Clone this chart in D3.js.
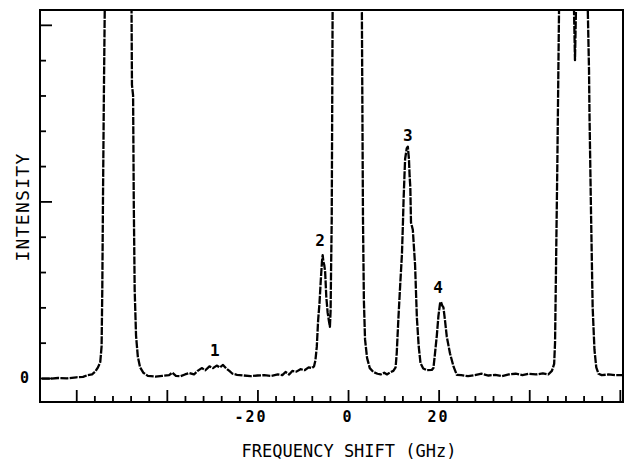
<!DOCTYPE html>
<html>
<head>
<meta charset="utf-8">
<script src="https://cdn.jsdelivr.net/npm/d3@7/dist/d3.min.js"></script>
<style>
  html, body { margin: 0; padding: 0; background: #fff; }
  svg { display: block; }
</style>
</head>
<body>
<svg id="chart" width="626" height="462"></svg>
<script>
// ---- data ----
const freqGHz = [
  -67.6, -66.0, -64.0, -62.0, -60.0, -58.5, -57.5, -56.5, -55.8, -55.2, -54.7, -54.4, -54.25, -54.1, -53.9, -53.7, -53.4,
  -51.0, -48.2, -47.8, -47.7, -47.45, -47.3, -47.1, -46.8, -46.4, -45.9, -45.2, -44.2, -42.5, -41.0, -39.5, -38.8, -38.0,
  -37.0, -36.0, -35.0, -34.0, -33.2, -32.3, -31.5, -30.6, -29.8, -29.0, -28.3, -27.6, -26.9, -26.2, -25.5, -24.5, -23.0,
  -21.5, -20.0, -18.5, -17.0, -15.5, -14.5, -13.8, -13.0, -12.3, -11.4, -10.5, -9.6, -8.7, -8.0, -7.5, -7.2, -6.9, -6.6,
  -6.3, -6.0, -5.75, -5.6, -5.45, -5.25, -5.05, -4.8, -4.5, -4.2, -4.0, -3.85, -3.75, -3.6, -3.4, -3.2, 0.0, 2.8, 3.05,
  3.3, 3.5, 3.75, 4.2, 4.8, 5.6, 6.5, 7.2, 8.0, 8.6, 9.3, 10.0, 10.5, 10.75, 11.1, 11.5, 11.9, 12.1, 12.25, 12.45, 12.6,
  12.95, 13.2, 13.45, 13.6, 13.75, 13.9, 14.3, 14.8, 15.2, 15.6, 16.0, 16.6, 17.4, 18.5, 18.85, 19.2, 19.6, 19.95, 20.3,
  20.5, 20.8, 21.06, 21.4, 21.8, 22.5, 23.3, 24.0, 25.0, 26.5, 28.0, 29.5, 31.0, 32.5, 34.0, 35.5, 37.0, 38.5, 40.0,
  41.5, 43.0, 44.2, 45.0, 45.5, 45.7, 45.9, 46.2, 46.5, 46.8, 48.5, 49.8, 50.1, 50.4, 52.0, 52.9, 53.2, 53.3, 53.6,
  54.0, 54.4, 54.8, 55.3, 56.0, 57.5, 59.0, 60.7
];
const intensity = [
  -0.02, -0.02, 0.0, -0.01, 0.02, 0.03, 0.08, 0.1, 0.18, 0.3, 0.45, 0.9, 2.5, 5.0, 8.0, 10.5, 13.5,
  16.0, 13.5, 10.6, 8.3, 8.0, 5.0, 2.5, 1.2, 0.6, 0.3, 0.15, 0.06, 0.04, 0.06, 0.08, 0.15, 0.06,
  0.05, 0.1, 0.14, 0.1, 0.2, 0.28, 0.22, 0.33, 0.28, 0.35, 0.3, 0.37, 0.27, 0.2, 0.12, 0.09, 0.07,
  0.05, 0.07, 0.08, 0.06, 0.1, 0.08, 0.17, 0.1, 0.2, 0.18, 0.25, 0.22, 0.3, 0.28, 0.33, 0.5, 0.88, 1.64,
  2.12, 2.8, 3.3, 3.48, 3.3, 3.2, 3.0, 2.3, 1.85, 1.6, 1.45, 1.9, 3.0, 4.5, 10.5, 13.5, 18.0, 13.5, 10.5,
  4.5, 2.2, 1.1, 0.57, 0.28, 0.17, 0.12, 0.1, 0.15, 0.1, 0.16, 0.2, 0.3, 0.7, 1.64, 2.6, 3.5, 4.3, 5.0, 5.7, 6.2,
  6.5, 6.55, 6.2, 5.7, 5.4, 4.4, 4.2, 3.2, 1.7, 0.9, 0.42, 0.27, 0.22, 0.23, 0.28, 0.7, 1.2, 1.75, 2.1,
  2.16, 2.05, 2.0, 1.64, 1.17, 0.7, 0.32, 0.09, 0.08, 0.05, 0.08, 0.12, 0.07, 0.09, 0.05, 0.1, 0.12, 0.08, 0.12,
  0.1, 0.13, 0.1, 0.2, 0.4, 1.0, 3.0, 6.0, 9.5, 13.0, 15.0, 11.0, 9.0, 11.0, 15.0, 10.6, 8.7, 7.5, 5.0,
  2.0, 0.8, 0.3, 0.12, 0.08, 0.1, 0.08, 0.08
];
const xMajorTicks = [-60, -40, -20, 0, 20, 40, 60];
const xMinorTicks = [-56, -52, -48, -44, -36, -32, -28, -24, -16, -12, -8, -4, 4, 8, 12, 16, 24, 28, 32, 36, 44, 48, 52, 56];
const xTickLabels = [-20, 0, 20];
const yMajorTicks = [0, 5, 10];
const yMinorTicks = [1, 2, 3, 4, 6, 7, 8, 9];
const yTickLabels = [0];
const peakLabels = ["1", "2", "3", "4"];
const peakLabelFreq = [-29.4, -6.2, 13.2, 19.9];
const peakLabelInt = [0.79, 3.9, 6.88, 2.58];
const xTitle = "FREQUENCY SHIFT (GHz)";
const yTitle = "INTENSITY";

// ---- chart ----
const W = 626, H = 462;
const m = { left: 40, right: 3, top: 10, bottom: 60 };
const svg = d3.select("#chart");
const x = d3.scaleLinear().domain([-68, 60.7]).range([m.left, W - m.right]);
const y = d3.scaleLinear().domain([-0.68, 10.42]).range([H - m.bottom, m.top]);

const fmtZero = d => (d === 0 ? "0" : d < 0 ? "-" + Math.abs(d) : String(d));
const monoFont = "'DejaVu Sans Mono', 'Liberation Mono', monospace";

svg.append("defs").append("clipPath").attr("id", "plotclip")
  .append("rect")
  .attr("x", x.range()[0]).attr("y", y.range()[1])
  .attr("width", x.range()[1] - x.range()[0])
  .attr("height", y.range()[0] - y.range()[1]);

// spectrum trace
const pts = freqGHz.map((f, i) => [f, intensity[i]]);
const line = d3.line().x(d => x(d[0])).y(d => y(d[1]));
svg.append("path")
  .attr("clip-path", "url(#plotclip)")
  .attr("d", line(pts))
  .attr("fill", "none")
  .attr("stroke", "#000")
  .attr("stroke-width", 2.3)
  .attr("stroke-linejoin", "round")
  .attr("stroke-dasharray", "8,1.3");

// axes ticks (pointing inward)
function styleAxis(g) {
  g.select(".domain").remove();
  g.selectAll(".tick line").attr("stroke", "#000").attr("stroke-width", 1.8);
  g.selectAll(".tick text").remove();
}
const yb = y.range()[0];
svg.append("g").attr("transform", `translate(0,${yb})`)
  .call(d3.axisBottom(x).tickValues(xMajorTicks).tickSize(-12)).call(styleAxis);
svg.append("g").attr("transform", `translate(0,${yb})`)
  .call(d3.axisBottom(x).tickValues(xMinorTicks).tickSize(-6)).call(styleAxis);
svg.append("g").attr("transform", `translate(${x.range()[0]},0)`)
  .call(d3.axisLeft(y).tickValues(yMajorTicks).tickSize(-12)).call(styleAxis);
svg.append("g").attr("transform", `translate(${x.range()[0]},0)`)
  .call(d3.axisLeft(y).tickValues(yMinorTicks).tickSize(-6)).call(styleAxis);

// frame
svg.append("rect")
  .attr("x", x.range()[0]).attr("y", y.range()[1])
  .attr("width", x.range()[1] - x.range()[0])
  .attr("height", y.range()[0] - y.range()[1])
  .attr("fill", "none").attr("stroke", "#000").attr("stroke-width", 2);

// tick labels
const tfs = 15;
svg.append("g").selectAll("text").data(xTickLabels).join("text")
  .attr("x", d => x(d) - (d < 0 ? 0.3 * tfs + 2 : 0))
  .attr("y", yb + 20)
  .attr("text-anchor", "middle")
  .attr("font-family", monoFont).attr("font-weight", "bold")
  .attr("font-size", tfs).attr("letter-spacing", 2)
  .text(fmtZero);
svg.append("g").selectAll("text").data(yTickLabels).join("text")
  .attr("x", x.range()[0] - 11)
  .attr("y", d => y(d) + 5)
  .attr("text-anchor", "end")
  .attr("font-family", monoFont).attr("font-weight", "bold")
  .attr("font-size", tfs)
  .text(fmtZero);

// peak labels
svg.append("g").selectAll("text").data(peakLabels).join("text")
  .attr("x", (d, i) => x(peakLabelFreq[i]))
  .attr("y", (d, i) => y(peakLabelInt[i]) + 6)
  .attr("text-anchor", "middle")
  .attr("font-family", monoFont).attr("font-weight", "bold")
  .attr("font-size", 16)
  .text(d => d);

// axis titles
svg.append("text")
  .attr("x", 349).attr("y", 457)
  .attr("text-anchor", "middle")
  .attr("font-family", monoFont)
  .attr("font-size", 17)
  .text(xTitle);
svg.append("text")
  .attr("transform", "translate(29,207) rotate(-90)")
  .attr("text-anchor", "middle")
  .attr("font-family", monoFont)
  .attr("font-size", 18)
  .attr("letter-spacing", 1.3)
  .text(yTitle);
</script>
</body>
</html>
